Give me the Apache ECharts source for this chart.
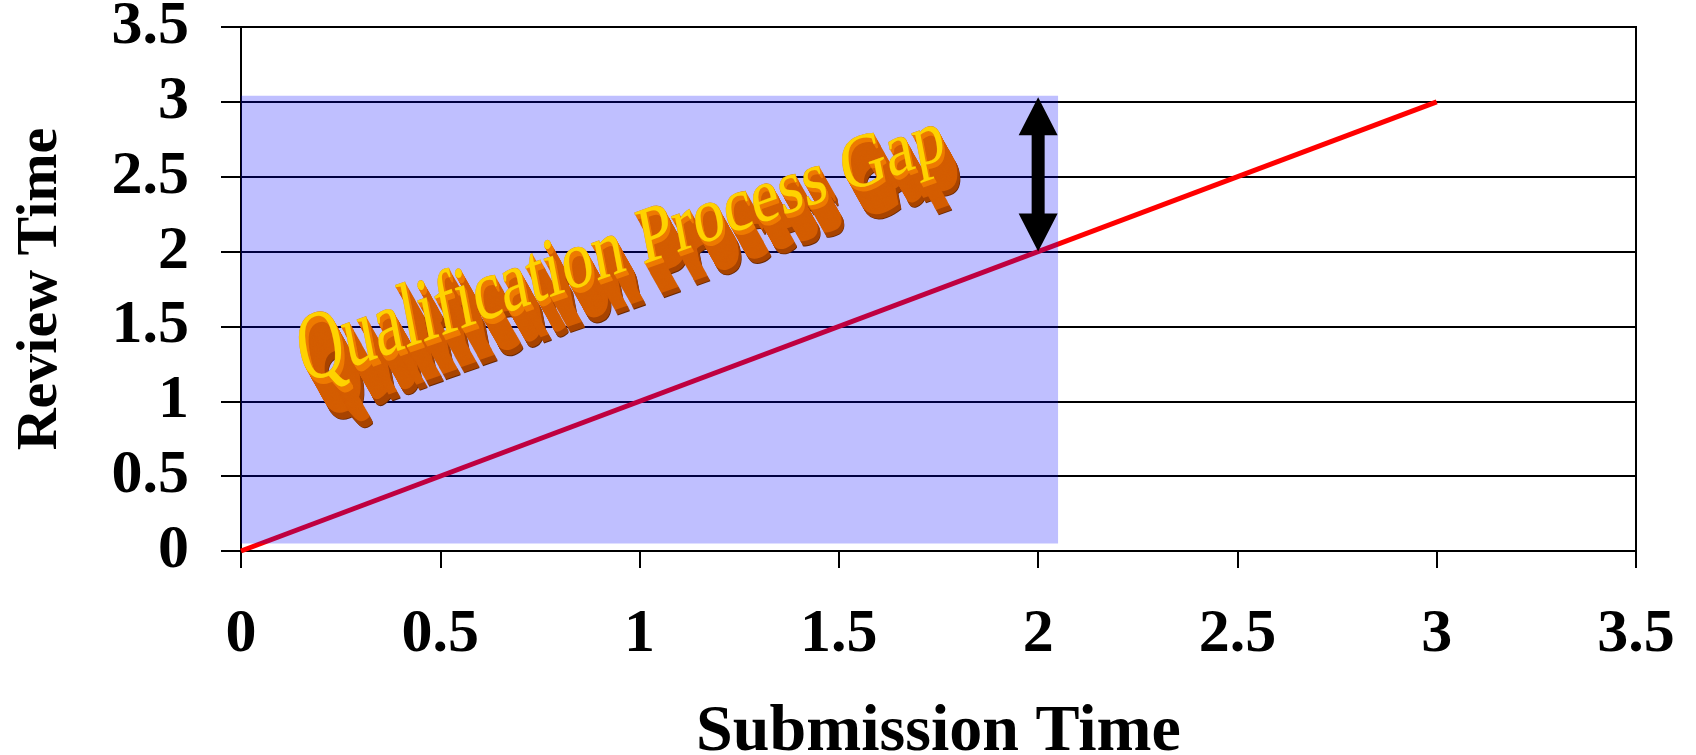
<!DOCTYPE html>
<html>
<head>
<meta charset="utf-8">
<title>Qualification Process Gap</title>
<script src="https://cdn.jsdelivr.net/npm/echarts@6/dist/echarts.min.js"></script>
<style>
  html, body { margin: 0; padding: 0; background: #fff; }
  #chart { width: 1696px; height: 755px; }
</style>
</head>
<body>
<div id="chart"></div>
<script>
// Axis ticks (both axes share the same 0 – 3.5 scale in steps of 0.5)
const axisMin = 0;
const axisMax = 3.5;
const axisStep = 0.5;

// Review time grows one-for-one with submission time
const submissionTime = [0, 3];
const reviewTime = [0, 3];

// Shaded qualification region (x range, y range)
const regionX = [0, 2.05];
const regionY = [0.05, 3.04];

// Gap arrow: x position, bottom and top
const gapArrow = [2, 2, 3.03];

// Caption and the data point where its baseline starts
const gapLabel = 'Qualification Process Gap';
const gapLabelStart = [0.16, 1.09];

const SERIF = '"Liberation Serif", "Times New Roman", serif';

const chart = echarts.init(document.getElementById('chart'), null, { renderer: 'canvas' });

// Shaded rectangle laid over the line and grid
function renderRegion(params, api) {
  const a = api.coord([api.value(0), api.value(3)]);
  const b = api.coord([api.value(2), api.value(1)]);
  return {
    type: 'rect',
    shape: { x: a[0], y: a[1], width: b[0] - a[0], height: b[1] - a[1] },
    style: { fill: 'rgba(0, 0, 255, 0.25)' }
  };
}

// Double-headed vertical arrow
function renderArrow(params, api) {
  const top = api.coord([api.value(0), api.value(2)]);
  const bot = api.coord([api.value(0), api.value(1)]);
  const cx = top[0];
  const hw = 19.5, sw = 6.5, hl = 38;
  const points = [
    [cx, top[1]], [cx + hw, top[1] + hl], [cx + sw, top[1] + hl],
    [cx + sw, bot[1] - hl], [cx + hw, bot[1] - hl], [cx, bot[1]],
    [cx - hw, bot[1] - hl], [cx - sw, bot[1] - hl], [cx - sw, top[1] + hl],
    [cx - hw, top[1] + hl]
  ];
  return { type: 'polygon', shape: { points: points }, style: { fill: '#000' } };
}

// Extruded, slanted caption drawn glyph by glyph; glyphs near the start are taller
const measureCtx = document.createElement('canvas').getContext('2d');
measureCtx.font = '100px ' + SERIF;

function renderCaption(params, api) {
  const start = api.coord([api.value(0), api.value(1)]);
  const theta = 19.5 * Math.PI / 180;
  const skew = -0.15;
  const t = Math.tan(skew);
  const cs = Math.cos(theta), sn = Math.sin(theta);
  const toScreen = (lx, ly) => {
    const ux = lx + t * ly, uy = ly;
    return [cs * ux + sn * uy, -sn * ux + cs * uy];
  };

  const chars = Array.from(gapLabel);
  const baseSize = 78;
  const perEm = 65;
  const widths = chars.map(c => measureCtx.measureText(c).width / 100);
  const total = widths.reduce((p, q) => p + q, 0);

  const glyphs = [];
  let s = 0, acc = 0;
  chars.forEach((c, i) => {
    const frac = (acc + widths[i] / 2) / total;
    const k = 0.95 + 0.3 * Math.pow(1 - frac, 2);
    const size = baseSize * k;
    const base = toScreen(s, 0);
    const off = toScreen(0, 0.305 * size);
    glyphs.push({
      c: c, k: k, size: size, sx: perEm / size,
      x: start[0] + base[0] - off[0], y: start[1] + base[1] - off[1]
    });
    s += widths[i] * perEm;
    acc += widths[i];
  });

  const depth = [19, 34];
  const back = [];
  const front = [];
  glyphs.forEach(g => {
    if (g.c === ' ') return;
    const dx = depth[0] * g.k, dy = depth[1] * g.k;
    const n = Math.round(Math.hypot(dx, dy));
    const font = g.size.toFixed(1) + 'px ' + SERIF;
    for (let j = n; j >= 1; j--) {
      const f = j / n;
      let fill = '#d45d00';
      if (j === n) fill = '#6a2800';
      else if (f > 0.85) fill = '#a84400';
      else if (f < 0.15) fill = '#ee7a00';
      back.push({
        type: 'text',
        x: g.x + dx * f,
        y: g.y + dy * f,
        rotation: theta,
        skewX: skew,
        scaleX: g.sx,
        style: { text: g.c, font: font, fill: fill, align: 'left', verticalAlign: 'middle' }
      });
    }
    front.push({
      type: 'text',
      x: g.x,
      y: g.y,
      rotation: theta,
      skewX: skew,
      scaleX: g.sx,
      style: {
        text: g.c,
        font: font,
        fill: '#ffd200',
        stroke: '#e08a00',
        lineWidth: 0.6,
        align: 'left',
        verticalAlign: 'middle'
      }
    });
  });
  return { type: 'group', children: back.concat(front) };
}

const labelFont = { fontFamily: SERIF, fontWeight: 'bold', fontSize: 62, color: '#000' };

chart.setOption({
  animation: false,
  backgroundColor: '#fff',
  grid: {
    left: 241, right: 60, top: 27, bottom: 204,
    containLabel: false,
    outerBoundsMode: 'none',
    show: true, borderColor: '#000', borderWidth: 2, backgroundColor: 'transparent'
  },
  xAxis: {
    type: 'value',
    min: axisMin, max: axisMax, interval: axisStep,
    name: 'Submission Time',
    nameLocation: 'middle',
    nameGap: 149,
    nameTextStyle: { fontFamily: SERIF, fontWeight: 'bold', fontSize: 66, color: '#000' },
    axisLine: { show: true, lineStyle: { color: '#000', width: 2 } },
    axisTick: { show: true, length: 17, lineStyle: { color: '#000', width: 2 } },
    axisLabel: Object.assign({ margin: 53 }, labelFont),
    splitLine: { show: false }
  },
  yAxis: {
    type: 'value',
    min: axisMin, max: axisMax, interval: axisStep,
    name: 'Review Time',
    nameLocation: 'middle',
    nameGap: 171,
    nameTextStyle: { fontFamily: SERIF, fontWeight: 'bold', fontSize: 58, color: '#000' },
    axisLine: { show: true, lineStyle: { color: '#000', width: 2 } },
    axisTick: { show: true, length: 20, lineStyle: { color: '#000', width: 2 } },
    axisLabel: Object.assign({ margin: 52 }, labelFont),
    splitLine: { show: true, lineStyle: { color: '#000', width: 2 } }
  },
  series: [
    {
      name: 'Review vs Submission',
      type: 'line',
      data: submissionTime.map((x, i) => [x, reviewTime[i]]),
      showSymbol: false,
      lineStyle: { color: '#ff0000', width: 5 },
      z: 2
    },
    {
      name: 'Qualification region',
      type: 'custom',
      renderItem: renderRegion,
      data: [[regionX[0], regionY[0], regionX[1], regionY[1]]],
      silent: true,
      z: 3
    },
    {
      name: 'Gap',
      type: 'custom',
      renderItem: renderArrow,
      data: [gapArrow],
      silent: true,
      z: 4
    },
    {
      name: 'Caption',
      type: 'custom',
      renderItem: renderCaption,
      data: [gapLabelStart],
      silent: true,
      z: 5
    }
  ]
});
</script>
</body>
</html>
